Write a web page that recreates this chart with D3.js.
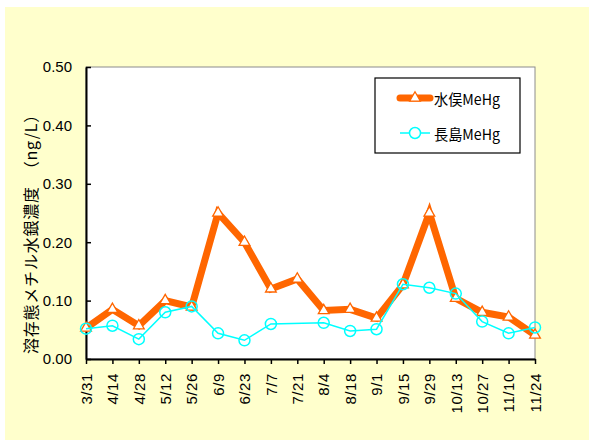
<!DOCTYPE html>
<html>
<head>
<meta charset="utf-8">
<script src="https://cdn.jsdelivr.net/npm/d3@7/dist/d3.min.js"></script>
<style>
  html, body { margin: 0; padding: 0; background: #ffffff; }
  svg { display: block; }
</style>
</head>
<body>
<svg id="chart" width="589" height="441"></svg>
<script>
// Sampling dates (month/day)
const dates = ["3/31","4/14","4/28","5/12","5/26","6/9","6/23","7/7","7/21","8/4","8/18","9/1","9/15","9/29","10/13","10/27","11/10","11/24"];
// Dissolved methylmercury, ng/L
const minamata = [0.053,0.085,0.057,0.100,0.089,0.250,0.200,0.120,0.137,0.083,0.085,0.070,0.127,0.250,0.104,0.080,0.072,0.041];
const nagashima = [0.052,0.057,0.034,0.080,0.090,0.044,0.032,0.060,null,0.062,0.048,0.051,0.128,0.122,0.112,0.064,0.044,0.054];
const yTicks = [0, 0.1, 0.2, 0.3, 0.4, 0.5];
const seriesNames = ["水俣MeHg", "長島MeHg"];

const svg = d3.select("#chart");
const narrow = "'Liberation Sans Narrow', 'Arial Narrow', 'Liberation Sans', Arial, sans-serif";
const cjk = "'Noto Sans CJK JP', 'Noto Sans CJK SC', sans-serif";

// page background
svg.append("rect").attr("x", 5).attr("y", 7).attr("width", 584).attr("height", 433).attr("fill", "#ffffcc");

const plot = { left: 86, top: 67, right: 535, bottom: 359 };

const x = d3.scalePoint().domain(dates).range([plot.left, plot.right]).padding(0);
const y = d3.scaleLinear().domain([0, 0.5]).range([plot.bottom, plot.top]);

// plot area
svg.append("rect")
  .attr("x", plot.left).attr("y", plot.top)
  .attr("width", plot.right - plot.left).attr("height", plot.bottom - plot.top)
  .attr("fill", "#ffffff").attr("stroke", "#8c8c8c").attr("stroke-width", 1);

// y axis with inward ticks
const yAxis = svg.append("g").attr("transform", `translate(${plot.left},0)`)
  .call(d3.axisLeft(y).tickValues(yTicks).tickFormat(d3.format(".2f")).tickSizeInner(-5).tickSizeOuter(0).tickPadding(14));
yAxis.select(".domain").attr("stroke", "#000").attr("stroke-width", 2);
yAxis.selectAll(".tick line").attr("stroke", "#000").attr("stroke-width", 1.5);
yAxis.selectAll(".tick text").attr("font-family", narrow).attr("font-size", 15).attr("fill", "#000");

// x axis with rotated date labels
const xAxis = svg.append("g").attr("transform", `translate(0,${plot.bottom})`)
  .call(d3.axisBottom(x).tickSizeInner(5).tickSizeOuter(0).tickPadding(0));
xAxis.select(".domain").attr("stroke", "#000").attr("stroke-width", 2);
xAxis.selectAll(".tick line").attr("stroke", "#000").attr("stroke-width", 1.5);
xAxis.selectAll(".tick text")
  .attr("font-family", "'Liberation Sans', Arial, sans-serif").attr("font-size", 15).attr("fill", "#000")
  .attr("text-anchor", "end").attr("dy", "0.35em").attr("letter-spacing", 0.6)
  .attr("transform", "translate(0,14) rotate(-90)").attr("x", 0).attr("y", 0);

// y axis title
svg.append("text")
  .attr("transform", "translate(30,230) rotate(-90)")
  .attr("text-anchor", "middle").attr("dominant-baseline", "central")
  .attr("font-family", cjk).attr("font-size", 16).attr("fill", "#000")
  .attr("letter-spacing", 0.8)
  .text("溶存態メチル水銀濃度　（ng/L）");

const line = d3.line().defined(d => d[1] != null).x(d => x(d[0])).y(d => y(d[1]));
const tri = d3.symbol().type(d3.symbolTriangle).size(50);

// Minamata series: thick orange line with triangles
const mData = dates.map((d, i) => [d, minamata[i]]);
svg.append("path").datum(mData).attr("d", line)
  .attr("fill", "none").attr("stroke", "#ff6600").attr("stroke-width", 7).attr("stroke-linejoin", "miter");
svg.selectAll(".tri").data(mData).join("path").attr("class", "tri")
  .attr("d", tri).attr("transform", d => `translate(${x(d[0])},${y(d[1])})`)
  .attr("fill", "#ffffff").attr("stroke", "#ff6600").attr("stroke-width", 1.3);

// Nagashima series: thin cyan line with open circles (gap bridged)
const nData = dates.map((d, i) => [d, nagashima[i]]).filter(d => d[1] != null);
svg.append("path").datum(nData).attr("d", line)
  .attr("fill", "none").attr("stroke", "#00ffff").attr("stroke-width", 1.5);
svg.selectAll(".circ").data(nData).join("circle").attr("class", "circ")
  .attr("cx", d => x(d[0])).attr("cy", d => y(d[1])).attr("r", 5.5)
  .attr("fill", "none").attr("stroke", "#00ffff").attr("stroke-width", 1.5);

// legend
const lg = svg.append("g");
lg.append("rect").attr("x", 375).attr("y", 78).attr("width", 145).attr("height", 75)
  .attr("fill", "#ffffff").attr("stroke", "#000").attr("stroke-width", 1.2);
const rows = [98, 133];
lg.append("line").attr("x1", 400).attr("x2", 430).attr("y1", rows[0]).attr("y2", rows[0])
  .attr("stroke", "#ff6600").attr("stroke-width", 7).attr("stroke-linecap", "round");
lg.append("path").attr("d", tri).attr("transform", `translate(415,${rows[0]})`)
  .attr("fill", "#ffffff").attr("stroke", "#ff6600").attr("stroke-width", 1.3);
lg.append("line").attr("x1", 400).attr("x2", 430).attr("y1", rows[1]).attr("y2", rows[1])
  .attr("stroke", "#00ffff").attr("stroke-width", 1.5);
lg.append("circle").attr("cx", 415).attr("cy", rows[1]).attr("r", 5.5)
  .attr("fill", "#ffffff").attr("stroke", "#00ffff").attr("stroke-width", 1.5);
seriesNames.forEach((name, i) => {
  lg.append("text").attr("x", 434).attr("y", rows[i]).attr("dominant-baseline", "central")
    .attr("font-family", cjk).attr("font-size", 15).attr("fill", "#000")
    .attr("textLength", 66).attr("lengthAdjust", "spacingAndGlyphs")
    .text(name);
});
</script>
</body>
</html>
